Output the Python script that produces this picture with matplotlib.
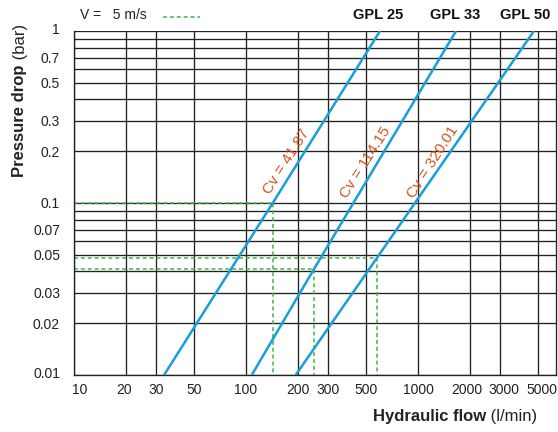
import matplotlib
matplotlib.use("Agg")
import matplotlib.pyplot as plt
import matplotlib.transforms as mtransforms

plt.rcParams['font.family'] = ['Liberation Sans', 'DejaVu Sans']

# Data
x_ticks = [10, 20, 30, 50, 100, 200, 300, 500, 1000, 2000, 3000, 5000]
x_ticklabels = ['10', '20', '30', '50', '100', '200', '300', '500', '1000', '2000', '3000', '5000']
y_ticks = [0.01, 0.02, 0.03, 0.05, 0.07, 0.1, 0.2, 0.3, 0.5, 0.7, 1]
y_ticklabels = ['0.01', '0.02', '0.03', '0.05', '0.07', '0.1', '0.2', '0.3', '0.5', '0.7', '1']
y_grid = [0.01, 0.02, 0.03, 0.04, 0.05, 0.06, 0.07, 0.08, 0.09, 0.1,
          0.2, 0.3, 0.4, 0.5, 0.6, 0.7, 0.8, 0.9, 1.0]

models = ['GPL 25', 'GPL 33', 'GPL 50']
model_label_x = [585, 1652, 4190]
cv_labels = ['Cv = 41.87', 'Cv = 114.15', 'Cv = 320.01']
cv_label_x = [172, 497, 1220]
cv_label_y = [0.175, 0.171, 0.173]

gpl25_flow = [33.4, 143, 601]
gpl25_dp = [0.01, 0.1, 1.0]
gpl33_flow = [108, 248, 1663]
gpl33_dp = [0.01, 0.0412, 1.0]
gpl50_flow = [194.5, 575, 4720]
gpl50_dp = [0.01, 0.0477, 1.0]

v5_flow = [143, 248, 575]
v5_dp = [0.1, 0.0412, 0.0477]

BLUE = '#1a9ddb'
GREEN = '#3fb54a'
ORANGE = '#d4531c'
DARK = '#222222'

fig = plt.figure(figsize=(5.58, 4.32), dpi=100)
ax = fig.add_axes([74/558, 1-375/432, (556-74)/558, (375-31)/432])
ax.set_xscale('log')
ax.set_yscale('log')
XMIN, XMAX = 10, 6340
YMIN, YMAX = 0.01, 1.0
ax.set_xlim(XMIN, XMAX)
ax.set_ylim(YMIN, YMAX)

for xv in x_ticks:
    ax.axvline(xv, color=DARK, lw=0.95, zorder=1)
for yv in y_grid:
    ax.axhline(yv, color=DARK, lw=0.95, zorder=1)

ax.set_xticks(x_ticks)
ax.set_xticklabels(x_ticklabels)
ax.set_yticks(y_ticks)
ax.set_yticklabels(y_ticklabels)
ax.minorticks_off()
ax.tick_params(axis='both', length=0, labelsize=10, colors=DARK)
ax.tick_params(axis='x', pad=6)
ax.tick_params(axis='y', pad=10)
for s in ax.spines.values():
    s.set_color(DARK)
    s.set_linewidth(0.95)
ax.spines['top'].set_visible(False)

# small pixel nudges of tick labels (as in the reference)
x_shift = {'10': 6, '20': -2, '2000': -3, '3000': 4, '5000': 4}
for lab in ax.get_xticklabels():
    dx = x_shift.get(lab.get_text(), 0)
    if dx:
        lab.set_transform(lab.get_transform() + mtransforms.ScaledTranslation(dx/100, 0, fig.dpi_scale_trans))
y_shift = {'1': 3, '0.01': 3}
for lab in ax.get_yticklabels():
    dy = y_shift.get(lab.get_text(), 0)
    if dy:
        lab.set_transform(lab.get_transform() + mtransforms.ScaledTranslation(0, dy/100, fig.dpi_scale_trans))

# green dashed V = 5 m/s
for q, dp in zip(v5_flow, v5_dp):
    ax.plot([XMIN, q, q], [dp, dp, YMIN], color=GREEN, lw=1.1,
            dashes=(2.6, 1.9), zorder=2, clip_on=False)

# blue lines
for fl, dp in [(gpl25_flow, gpl25_dp), (gpl33_flow, gpl33_dp), (gpl50_flow, gpl50_dp)]:
    ax.plot(fl, dp, color=BLUE, lw=1.8, zorder=3, solid_capstyle='butt')

# Cv labels
for lab, xq, yq in zip(cv_labels, cv_label_x, cv_label_y):
    ax.text(xq, yq, lab, color=ORANGE, fontsize=11, rotation=57.5,
            ha='center', va='center', rotation_mode='anchor', zorder=4)

# model labels above the plot
for lab, xq in zip(models, model_label_x):
    ax.text(xq, 1 + 16/344, lab, transform=ax.get_xaxis_transform(), fontsize=10.5,
            fontweight='bold', ha='center', va='center', color='#111111')

# legend text
fig.text(80/558, 1-15/432, 'V =   5 m/s', fontsize=10, va='center', ha='left', color=DARK)
fig.lines.append(plt.Line2D([163/558, 200/558], [1-17/432, 1-17/432], transform=fig.transFigure,
                            color=GREEN, lw=1.1, dashes=(2.6, 1.9)))

# axis labels
t1 = fig.text(20/558, 1-177/432, 'Pressure drop', rotation=90, fontsize=12,
              fontweight='bold', ha='center', va='bottom', color=DARK)
ax.annotate(' (bar)', xy=(0.5, 1), xycoords=t1, rotation=90, fontsize=12,
            ha='center', va='bottom', color=DARK, annotation_clip=False)

t2 = fig.text(537/558, 1-417/432, ' (l/min)', fontsize=12, ha='right',
              va='center', color=DARK)
ax.annotate('Hydraulic flow', xy=(0, 0.5), xycoords=t2, fontsize=12, fontweight='bold',
            ha='right', va='center', color=DARK, annotation_clip=False)

fig.savefig('out.png', dpi=100)
